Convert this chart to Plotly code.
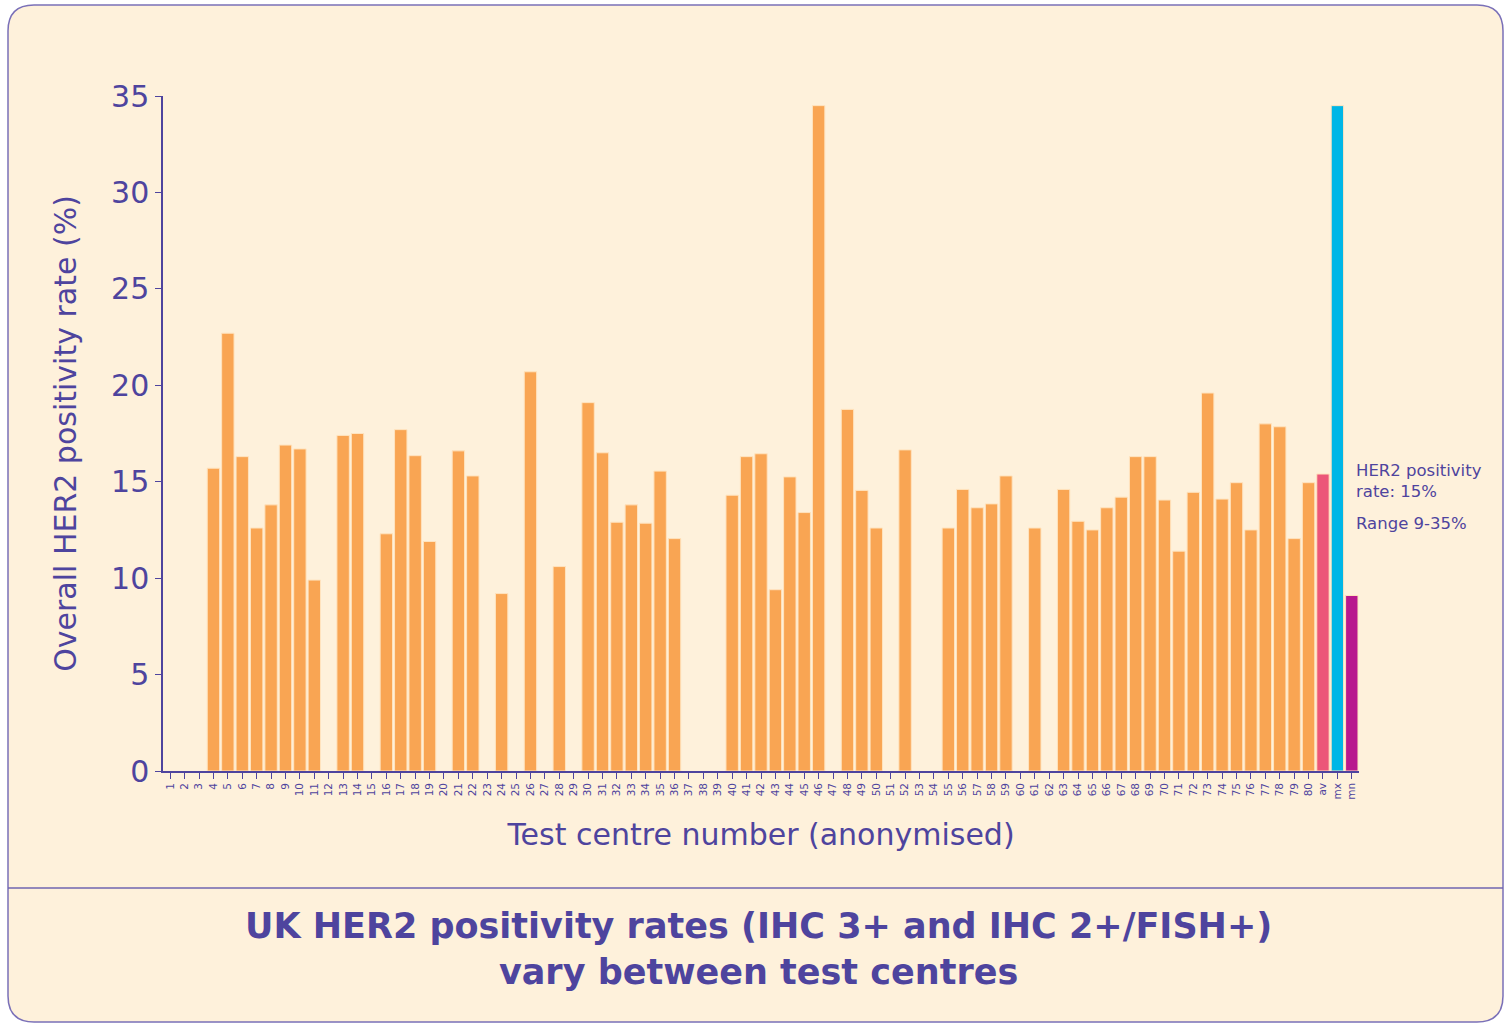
import plotly.graph_objects as go

centres = [str(i) for i in range(1, 81)] + ["av", "mx", "mn"]
rates = [
    None, None, None, 15.7, 22.7, 16.3, 12.6, 13.8, 16.9, 16.7,
    9.9, None, 17.4, 17.5, None, 12.3, 17.7, 16.35, 11.9, None,
    16.6, 15.3, None, 9.2, None, 20.7, None, 10.6, None, 19.1,
    16.5, 12.9, 13.8, 12.85, 15.55, 12.05, None, None, None, 14.3,
    16.3, 16.45, 9.4, 15.25, 13.4, 34.5, None, 18.75, 14.55, 12.6,
    None, 16.65, None, None, 12.6, 14.6, 13.65, 13.85, 15.3, None,
    12.6, None, 14.6, 12.95, 12.5, 13.65, 14.2, 16.3, 16.3, 14.05,
    11.4, 14.45, 19.6, 14.1, 14.95, 12.5, 18.0, 17.85, 12.05, 14.95,
    15.4, 34.5, 9.1,
]
bar_colors = ["#F9A553"] * 80 + ["#EC5679", "#00B6E6", "#B8188E"]
y_ticks = [0, 5, 10, 15, 20, 25, 30, 35]

PURPLE = "#4E449E"
CREAM = "#FEF1DB"
FONT = "'DejaVu Sans', sans-serif"

W, H = 1505, 1025
L, R, T, B = 163, 146, 96, 254
PW, PH = W - L - R, H - T - B

def px(x):
    return (x - L) / PW

def py(y):
    return (H - B - y) / PH

fig = go.Figure()
fig.add_trace(go.Bar(
    x=centres, y=rates,
    marker=dict(color=bar_colors, line=dict(color="#FFE3BE", width=1)),
    hoverinfo="x+y",
))

# rounded panel
x0, x1, y0, y1, r = 8, 1503, 5, 1022, 26
rx, ry = r / PW, r / PH
X0, X1, Y0, Y1 = px(x0), px(x1), py(y0), py(y1)
path = (f"M {X0+rx},{Y0} L {X1-rx},{Y0} Q {X1},{Y0} {X1},{Y0-ry} "
        f"L {X1},{Y1+ry} Q {X1},{Y1} {X1-rx},{Y1} L {X0+rx},{Y1} "
        f"Q {X0},{Y1} {X0},{Y1+ry} L {X0},{Y0-ry} Q {X0},{Y0} {X0+rx},{Y0} Z")
fig.add_shape(type="path", path=path, xref="paper", yref="paper",
              fillcolor=CREAM, line=dict(color="#7A70B8", width=1.5), layer="below")
fig.add_shape(type="line", xref="paper", yref="paper",
              x0=px(x0), x1=px(x1), y0=py(888), y1=py(888),
              line=dict(color="#6F65B0", width=1.5))

fig.add_annotation(xref="paper", yref="paper", x=px(1354), y=py(459),
                   xanchor="left", yanchor="top", align="left", showarrow=False,
                   text="HER2 positivity<br>rate: 15%",
                   font=dict(family=FONT, size=16.5, color=PURPLE))
fig.add_annotation(xref="paper", yref="paper", x=px(1354), y=py(512),
                   xanchor="left", yanchor="top", align="left", showarrow=False,
                   text="Range 9-35%",
                   font=dict(family=FONT, size=16.5, color=PURPLE))
fig.add_annotation(xref="paper", yref="paper", x=px(758), y=py(949),
                   xanchor="center", yanchor="middle", align="center", showarrow=False,
                   text="<b>UK HER2 positivity rates (IHC 3+ and IHC 2+/FISH+)</b><br><b>vary between test centres</b>",
                   font=dict(family=FONT, size=35, color=PURPLE))

fig.update_layout(
    width=W, height=H,
    margin=dict(l=L, r=R, t=T, b=B, autoexpand=False),
    paper_bgcolor="white", plot_bgcolor="rgba(0,0,0,0)",
    bargap=0.14, showlegend=False,
    font=dict(family=FONT, color=PURPLE),
)
fig.update_xaxes(
    type="category", categoryorder="array", categoryarray=centres,
    range=[-0.5, len(centres) - 0.5],
    showline=True, linecolor=PURPLE, linewidth=1.5,
    ticks="outside", ticklen=6, tickcolor=PURPLE, tickwidth=1.2,
    tickangle=-90, tickfont=dict(size=10.5, color=PURPLE, family=FONT),
    showgrid=False, zeroline=False,
    title=dict(text="Test centre number (anonymised)", font=dict(size=30, color=PURPLE, family=FONT), standoff=25),
)
fig.update_yaxes(
    range=[0, 35], tickvals=y_ticks,
    showline=True, linecolor=PURPLE, linewidth=1.5,
    ticks="outside", ticklen=6, tickcolor=PURPLE, tickwidth=1.2,
    tickfont=dict(size=30, color=PURPLE, family=FONT),
    showgrid=False, zeroline=False,
    title=dict(text="Overall HER2 positivity rate (%)", font=dict(size=30, color=PURPLE, family=FONT), standoff=26),
)

fig.write_html("out.html", config={"displayModeBar": False},
               post_script="document.body.style.margin='0px';")
